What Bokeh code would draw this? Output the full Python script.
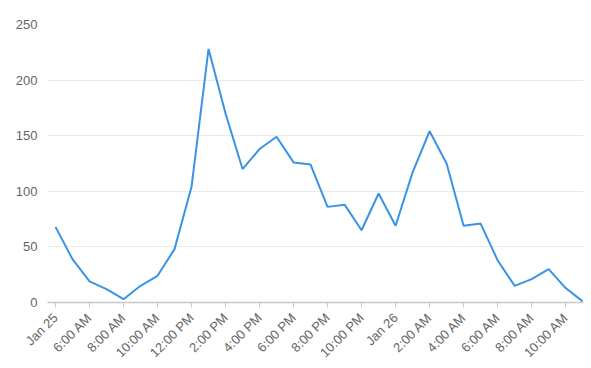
import math
from bokeh.plotting import figure
from bokeh.models import FixedTicker, Range1d
from bokeh.embed import file_html
from bokeh.resources import INLINE

# hours since midnight Jan 25
hours = list(range(4, 36))
values = [68, 39, 19, 12, 3, 15, 24, 48, 104, 228, 170, 120, 138, 149, 126, 124,
          86, 88, 65, 98, 69, 117, 154, 125, 69, 71, 38, 15, 21, 30, 13, 1]

tick_hours = list(range(4, 36, 2))
tick_labels = ["Jan 25", "6:00 AM", "8:00 AM", "10:00 AM", "12:00 PM", "2:00 PM",
               "4:00 PM", "6:00 PM", "8:00 PM", "10:00 PM", "Jan 26", "2:00 AM",
               "4:00 AM", "6:00 AM", "8:00 AM", "10:00 AM"]
y_ticks = [0, 50, 100, 150, 200, 250]

p = figure(width=591, height=368, output_backend="svg", toolbar_location=None,
           x_range=Range1d(3.53, 35.05), y_range=Range1d(0, 250),
           min_border_left=47, min_border_right=8, min_border_top=24,
           min_border_bottom=66)
p.outline_line_color = None
p.background_fill_color = "white"

p.line(hours, values, line_color="#3993e6", line_width=2)

font = "Liberation Sans"
# y axis
p.yaxis.ticker = FixedTicker(ticks=y_ticks)
p.yaxis.axis_line_color = None
p.yaxis.major_tick_line_color = None
p.yaxis.minor_tick_line_color = None
p.yaxis.major_tick_in = 0
p.yaxis.major_tick_out = 0
p.yaxis.major_label_text_color = "#666666"
p.yaxis.major_label_text_font = font
p.yaxis.major_label_text_font_size = "13px"
p.yaxis.major_label_standoff = 10
p.ygrid.grid_line_color = "#ebebeb"
p.ygrid.ticker = FixedTicker(ticks=y_ticks)

# x axis
p.xaxis.ticker = FixedTicker(ticks=tick_hours)
p.xaxis.major_label_overrides = {h: l for h, l in zip(tick_hours, tick_labels)}
p.xaxis.major_label_orientation = math.pi / 4
p.xaxis.axis_line_color = "#c8c8c8"
p.xaxis.axis_line_width = 1.5
p.xaxis.major_tick_line_color = "#c8c8c8"
p.xaxis.major_tick_in = 0
p.xaxis.major_tick_out = 5
p.xaxis.minor_tick_line_color = None
p.xaxis.major_label_text_color = "#666666"
p.xaxis.major_label_text_font = font
p.xaxis.major_label_text_font_size = "13px"
p.xaxis.major_label_standoff = 8
p.xgrid.grid_line_color = None

open("out.html", "w").write(file_html(p, INLINE))
